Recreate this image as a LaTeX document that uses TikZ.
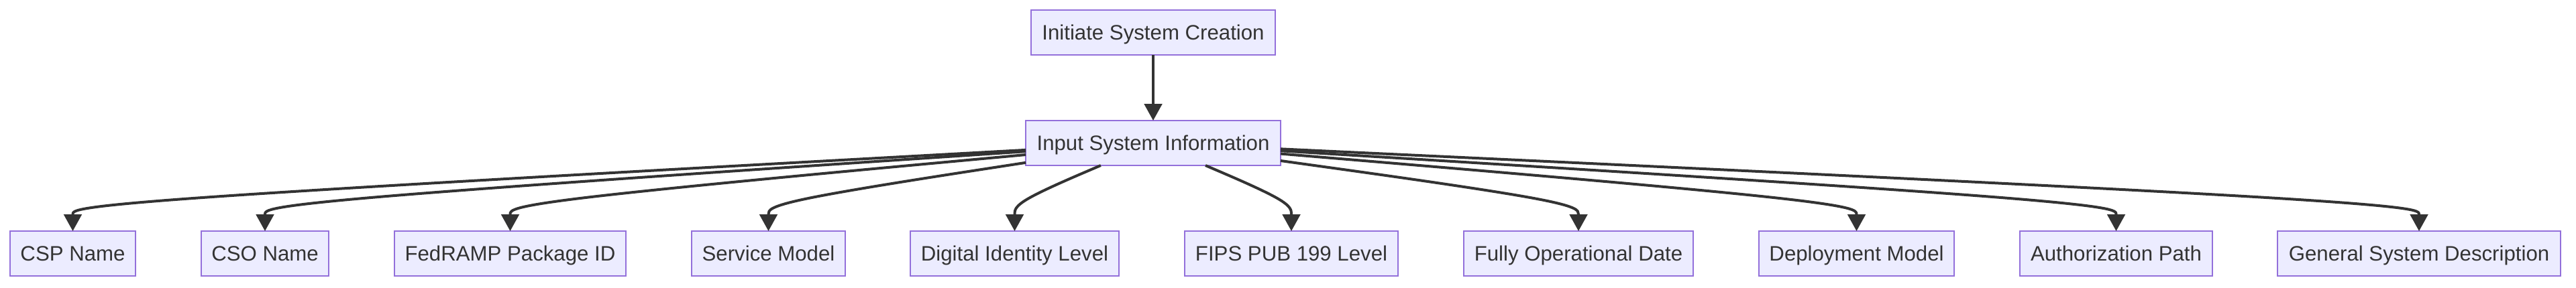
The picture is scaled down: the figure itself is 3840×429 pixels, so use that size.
\documentclass[tikz,border=0pt]{standalone}
\usepackage{fontspec}
\setmainfont{Liberation Sans}
\usetikzlibrary{calc,arrows.meta}
\definecolor{boxfill}{HTML}{ECECFF}
\definecolor{boxborder}{HTML}{9370DB}
\definecolor{txt}{HTML}{333333}
\definecolor{edgecol}{HTML}{333333}
\tikzset{
  box/.style={draw=boxborder, fill=boxfill, line width=0.55pt, minimum height=16.75pt,
    inner sep=0pt, outer sep=0pt, text=txt, font=\fontsize{7.8}{9}\selectfont,
    text height=5.5pt, text depth=0pt},
  bw/.style={minimum width=#1*0.25pt},
  edge/.style={draw=edgecol, line width=1pt, line join=round,
    -{Triangle[length=6.25pt,width=6.6pt]}},
}
\newcommand\edgeto[1]{%
  \coordinate (B) at (#1.north |- ymid);
  \coordinate (Cb) at ($(#1.north)+(0,-25)$);
  \path (in) -- (B) coordinate[pos=0] (A);
  \coordinate (P1) at ($(A)!2/3!(B)$);
  \coordinate (P2) at ($(B)!1/3!(Cb)$);
  \draw[edge] (A) -- ($(A)!1/6!(B)$) .. controls ($(A)!1/3!(B)$) and (P1) ..
    ($(P1)!0.5!(P2)$) .. controls (P2) and ($(B)!2/3!(Cb)$) .. (Cb) -- (#1.north);
}
\begin{document}
\begin{tikzpicture}[x=0.25pt,y=-0.25pt]
\useasboundingbox (0,0) rectangle (3840,429);
\fill[white] (0,0) rectangle (3840,429);
\coordinate (ymid) at (0,302);
\node[box,bw=364] (init) at (1719,48.5) {Initiate System Creation};
\node[box,bw=380] (in) at (1719,213.5) {Input System Information};
\node[box,bw=187] (csp) at (108.5,378.5) {CSP Name};
\node[box,bw=190] (cso) at (395,378.5) {CSO Name};
\node[box,bw=345] (fed) at (760.5,378.5) {FedRAMP Package ID};
\node[box,bw=229] (svc) at (1145.5,378.5) {Service Model};
\node[box,bw=311] (dig) at (1512.5,378.5) {Digital Identity Level};
\node[box,bw=318] (fips) at (1925,378.5) {FIPS PUB 199 Level};
\node[box,bw=342] (fod) at (2353,378.5) {Fully Operational Date};
\node[box,bw=291] (dep) at (2767.5,378.5) {Deployment Model};
\node[box,bw=287] (auth) at (3154.5,378.5) {Authorization Path};
\node[box,bw=422] (gsd) at (3606,378.5) {General System Description};
\draw[edge] (init) -- (in);
\edgeto{csp}
\edgeto{cso}
\edgeto{fed}
\edgeto{svc}
\edgeto{dig}
\edgeto{fips}
\edgeto{fod}
\edgeto{dep}
\edgeto{auth}
\edgeto{gsd}
\end{tikzpicture}
\end{document}
